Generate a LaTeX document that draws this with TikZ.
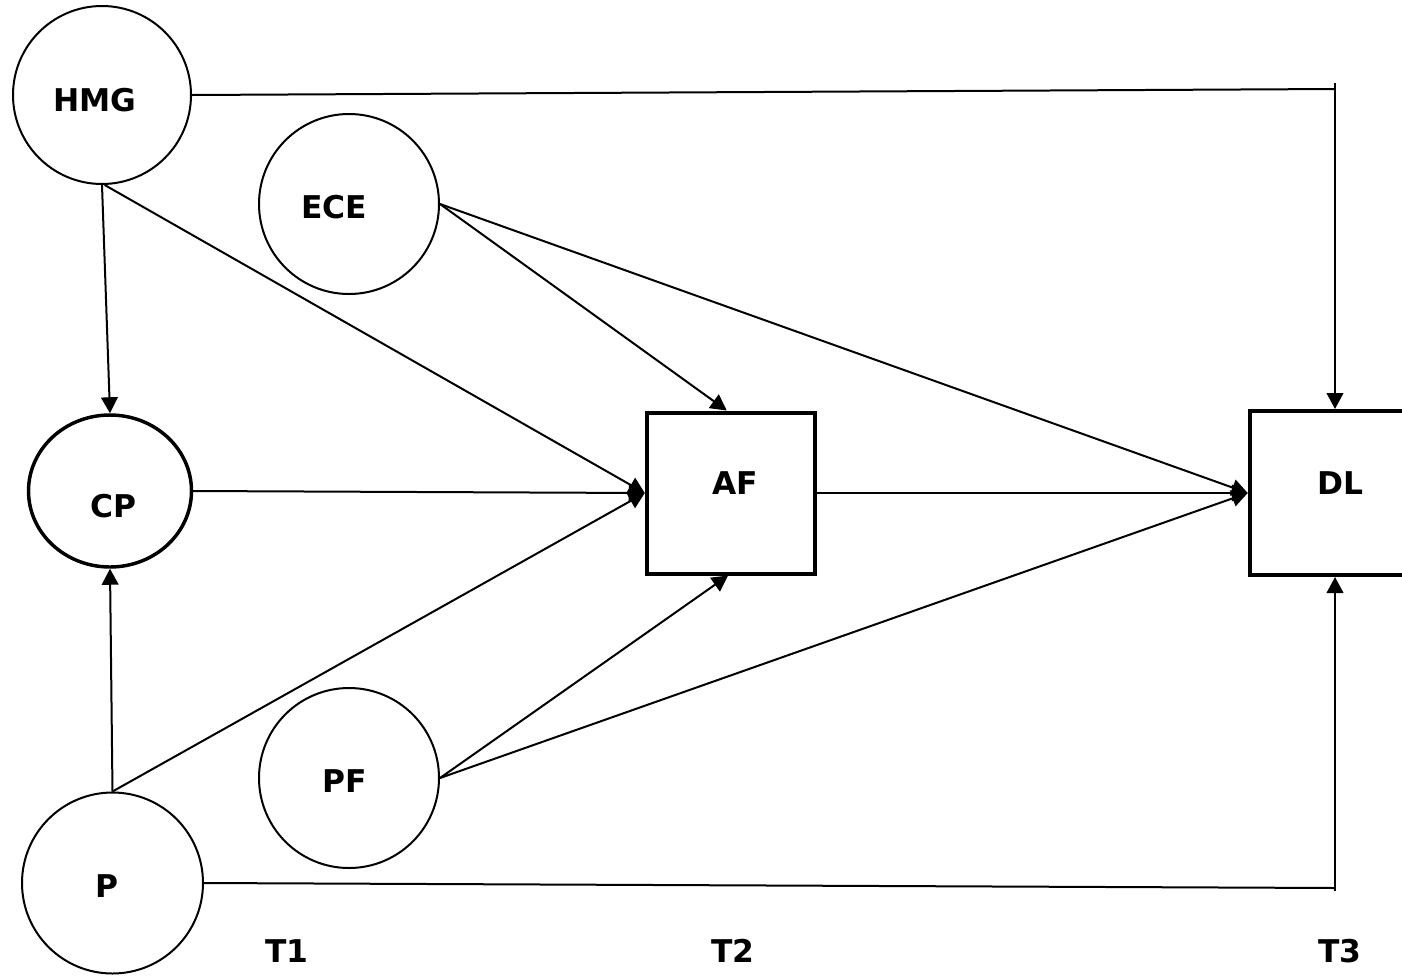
\documentclass[tikz,border=0pt]{standalone}
\usepackage{fontspec}
\setmainfont{DejaVu Sans}
\usetikzlibrary{arrows.meta,shapes.geometric}
\tikzset{
  var/.style={circle,draw,line width=1.5pt,inner sep=0pt},
  box/.style={rectangle,draw,line width=3pt,inner sep=0pt},
  lbl/.style={font=\bfseries\fontsize{23.5}{28}\selectfont,inner sep=0pt},
  conn/.style={line width=1.5pt},
  arr/.style={conn,-{Triangle[length=12pt,width=12.5pt]}}
}
\begin{document}
\begin{tikzpicture}[x=0.75pt,y=-0.75pt]
\clip (0,0) rectangle (1402,975);
\fill[white] (0,0) rectangle (1402,975);
% nodes
\node[var,minimum size=133.5pt] (HMG) at (102,95) {};
\node[var,minimum size=135pt] (ECE) at (349,204) {};
\node[ellipse,draw,line width=2.6pt,inner sep=0pt,minimum width=122.25pt,minimum height=114pt] (CP) at (110,491) {};
\node[var,minimum size=135pt] (PF) at (349,778) {};
\node[var,minimum size=135.75pt] (P) at (112.5,883) {};
\node[box,minimum width=126pt,minimum height=120.75pt] (AF) at (730.75,493) {};
\node[box,minimum width=120.4pt,minimum height=123pt] (DL) at (1330,493) {};
% labels
\node[lbl] (tHMG) at (95,100) {HMG};
\node[lbl] (tECE) at (334,207) {ECE};
\node[lbl] (tCP) at (113,506) {CP};
\node[lbl] (tPF) at (345,781) {PF};
\node[lbl] (tP) at (107,886) {P};
\node[lbl] (tAF) at (735,483) {AF};
\node[lbl] (tDL) at (1340,483) {DL};
\node[lbl] (T1) at (287,951) {T1};
\node[lbl] (T2) at (733,951) {T2};
\node[lbl] (T3) at (1340,951) {T3};
% corner coordinates
\coordinate (c1) at (1335,89);
\coordinate (c1t) at (1335,83);
\coordinate (c2) at (1335,888);
\coordinate (c2b) at (1335,891);
% connectors
\draw[conn] (HMG.east) -- (c1);
\draw[arr] (c1t) -- (c1t |- DL.north);
\draw[conn] (P.east) -- (c2);
\draw[arr] (c2b) -- (c2b |- DL.south);
\draw[arr] (HMG.south) -- (CP.north);
\draw[arr] ([xshift=2pt]HMG.south) -- (AF.west);
\draw[arr] (ECE.east) -- ([xshift=-3pt]AF.north);
\draw[arr] (ECE.east) -- (DL.west);
\draw[arr] (CP.east) -- (AF.west);
\draw[arr] (AF.east) -- (DL.west);
\draw[arr] (P.north) -- (CP.south);
\draw[arr] (P.north) -- (AF.west);
\draw[arr] (PF.east) -- ([xshift=-2pt]AF.south);
\draw[arr] (PF.east) -- (DL.west);
\end{tikzpicture}
\end{document}
